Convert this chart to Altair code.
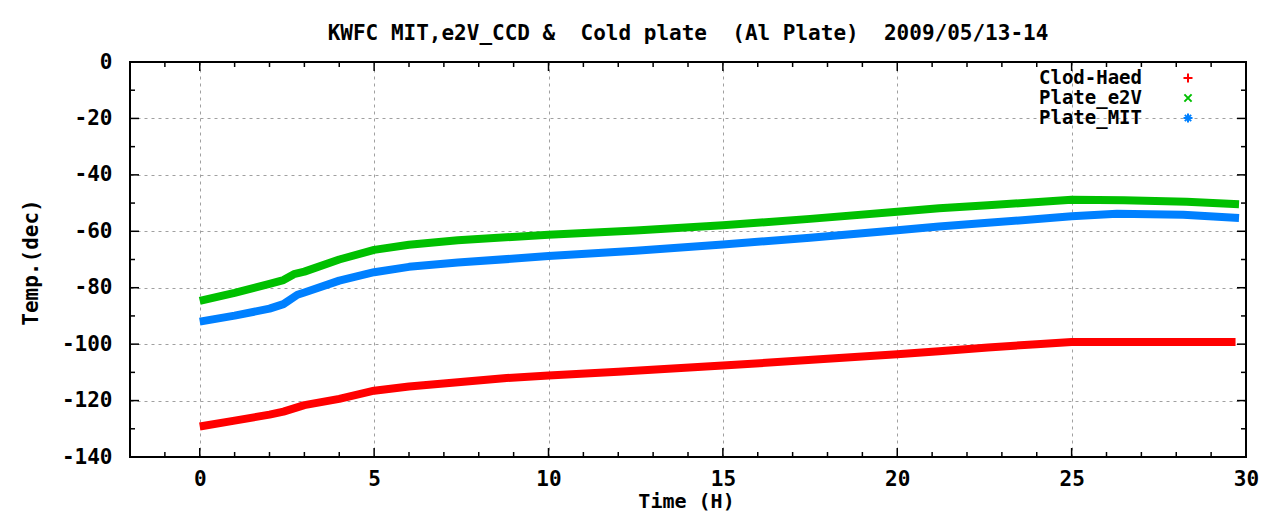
import altair as alt
import pandas as pd

# ---------------- data ----------------
TITLE = "KWFC MIT,e2V_CCD &\u00a0 Cold plate\u00a0 (Al Plate)\u00a0 2009/05/13-14"
X_TITLE = "Time (H)"
Y_TITLE = "Temp.(dec)"
SERIES = ["Clod-Haed", "Plate_e2V", "Plate_MIT"]
COLORS = ["#ff0000", "#00c000", "#0080ff"]

hours_cold = [0, 1, 2, 2.4, 3, 4, 5, 6, 7.4, 8.8, 10, 12, 15, 18, 20, 21.2, 22.6, 24, 25, 27, 29.7]
temp_cold = [-129.2, -127.1, -125.0, -123.9, -121.6, -119.4, -116.5, -115.0, -113.5, -112.0,
             -111.1, -109.8, -107.6, -105.2, -103.6, -102.5, -101.2, -100.0, -99.2, -99.2, -99.2]

hours_e2v = [0, 1, 2, 2.4, 2.7, 3, 4, 5, 6, 7.4, 10, 12.5, 15, 17.5, 20, 21.2, 22.6, 25, 26.5, 28.3, 29.8]
temp_e2v = [-84.7, -81.8, -78.6, -77.3, -75.2, -74.3, -70.0, -66.6, -64.8, -63.2, -61.2,
            -59.7, -57.9, -55.6, -53.1, -51.8, -50.8, -48.8, -49.0, -49.5, -50.4]

hours_mit = [0, 1, 2, 2.4, 2.8, 3, 4, 5, 6, 7.4, 10, 12.5, 15, 17.5, 20, 21.2, 22.6, 25, 26.3, 28.2, 29.8]
temp_mit = [-92.0, -89.9, -87.4, -85.8, -82.5, -81.7, -77.5, -74.5, -72.6, -71.1, -68.8,
            -66.9, -64.7, -62.3, -59.6, -58.3, -57.0, -54.7, -53.8, -54.1, -55.3]

X_DOMAIN = [-2, 30]
Y_DOMAIN = [-140, 0]
x_major = [0, 5, 10, 15, 20, 25, 30]
y_major = [0, -20, -40, -60, -80, -100, -120, -140]
x_major_ticks = [0, 5, 10, 15, 20, 25]
x_minor_ticks = [-1, 1, 2, 3, 4, 6, 7, 8, 9, 11, 12, 13, 14, 16, 17, 18, 19,
                 21, 22, 23, 24, 26, 27, 28, 29]
y_major_ticks = [-20, -40, -60, -80, -100, -120]
y_minor_ticks = [-10, -30, -50, -70, -90, -110, -130]

# ---------------- layout / style ----------------
W, H = 1116, 395
FONT = "DejaVu Sans Mono"
FS = 21
LEG_FS = 19
XT_FS = 20
MAJ, MIN = 9, 5

frames = []
for name, hs, ts in [(SERIES[0], hours_cold, temp_cold),
                     (SERIES[1], hours_e2v, temp_e2v),
                     (SERIES[2], hours_mit, temp_mit)]:
    frames.append(pd.DataFrame({"hour": hs, "temp": ts, "series": name}))
df = pd.concat(frames, ignore_index=True)

xs = alt.Scale(domain=X_DOMAIN, nice=False, zero=False)
ys = alt.Scale(domain=Y_DOMAIN, nice=False, zero=False)

x_axis = alt.Axis(
    values=x_major, grid=True, gridColor="#a0a0a0", gridDash=[3, 4], gridWidth=1,
    ticks=False, tickSize=0, domain=False, labelFlush=False, labelOverlap=False,
    labelFont=FONT, labelFontSize=FS, labelFontWeight="bold", labelColor="black",
    labelPadding=22, labelBaseline="middle", labelExpr="datum.value + ''",
    title=X_TITLE, titleFont=FONT, titleFontSize=XT_FS, titleFontWeight="bold", titleColor="black",
    titleX=556, titleY=44, titleBaseline="middle", titleAlign="center",
)
y_axis = alt.Axis(
    values=y_major, grid=True, gridColor="#a0a0a0", gridDash=[3, 4], gridWidth=1,
    ticks=False, tickSize=0, domain=False, labelFlush=False, labelOverlap=False,
    labelFont=FONT, labelFontSize=FS, labelFontWeight="bold", labelColor="black",
    labelPadding=18, labelBaseline="middle", labelExpr="datum.value + ''",
    title=Y_TITLE, titleFont=FONT, titleFontSize=FS, titleFontWeight="bold", titleColor="black",
    titleX=-99, titleY=200, titleAngle=270, titleBaseline="middle", titleAlign="center",
)

lines = alt.Chart(df).mark_line(strokeWidth=8, strokeCap="butt", strokeJoin="round").encode(
    x=alt.X("hour:Q", scale=xs, axis=x_axis),
    y=alt.Y("temp:Q", scale=ys, axis=y_axis),
    color=alt.Color("series:N", scale=alt.Scale(domain=SERIES, range=COLORS), legend=None),
)


def xticks(vals, length, top):
    d = pd.DataFrame({"v": vals})
    if top:
        yy, yy2 = alt.value(0), alt.value(length)
    else:
        yy, yy2 = alt.value(H), alt.value(H - length)
    return alt.Chart(d).mark_rule(color="black", strokeWidth=1.5).encode(
        x=alt.X("v:Q", scale=xs, axis=x_axis), y=yy, y2=yy2)


def yticks(vals, length, right):
    d = pd.DataFrame({"v": vals})
    if right:
        xx, xx2 = alt.value(W), alt.value(W - length)
    else:
        xx, xx2 = alt.value(0), alt.value(length)
    return alt.Chart(d).mark_rule(color="black", strokeWidth=1.5).encode(
        y=alt.Y("v:Q", scale=ys, axis=y_axis), x=xx, x2=xx2)


tick_layers = []
for top in (False, True):
    tick_layers.append(xticks(x_major_ticks, MAJ, top))
    tick_layers.append(xticks(x_minor_ticks, MIN, top))
for right in (False, True):
    tick_layers.append(yticks(y_major_ticks, MAJ, right))
    tick_layers.append(yticks(y_minor_ticks, MIN, right))

one = pd.DataFrame({"a": [0]})
frame = alt.Chart(one).mark_rect(fillOpacity=0, stroke="black", strokeWidth=2).encode(
    x=alt.value(0), x2=alt.value(W), y=alt.value(0), y2=alt.value(H))

SHAPES = [
    "M-1,0L1,0M0,-1L0,1",
    "M-0.8,-0.8L0.8,0.8M-0.8,0.8L0.8,-0.8",
    "M-1,0L1,0M0,-1L0,1M-0.7,-0.7L0.7,0.7M-0.7,0.7L0.7,-0.7",
]
legend_layers = []
for i, (name, col, shp) in enumerate(zip(SERIES, COLORS, SHAPES)):
    ly = 16 + 20 * i
    legend_layers.append(
        alt.Chart(one).mark_text(font=FONT, fontSize=LEG_FS, fontWeight="bold", color="black",
                                 align="right", baseline="middle").encode(
            x=alt.value(1012), y=alt.value(ly), text=alt.value(name)))
    legend_layers.append(
        alt.Chart(one).mark_point(shape=shp, filled=False, stroke=col, strokeWidth=2,
                                  size=81, opacity=1).encode(
            x=alt.value(1058), y=alt.value(ly)))

chart = alt.layer(lines, *tick_layers, frame, *legend_layers).properties(
    width=W, height=H,
    title=alt.Title(TITLE, font=FONT, fontSize=FS, fontWeight="bold", color="black",
                    anchor="middle", frame="group", offset=7),
    autosize=alt.AutoSizeParams(type="none"),
    padding={"left": 122, "top": 54, "right": 18, "bottom": 55},
    background="white",
).configure_view(stroke=None)

chart.save("out.html", embed_options={"renderer": "svg", "actions": False})
